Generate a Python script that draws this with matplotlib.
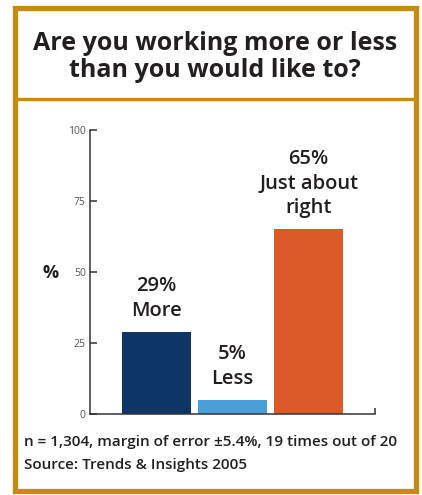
import matplotlib.pyplot as plt
from matplotlib.patches import Rectangle
from matplotlib.lines import Line2D

categories = ["More", "Less", "Just about\nright"]
values = [29, 5, 65]
colors = ["#0d3666", "#4a9fd8", "#dc5a28"]
yticks = [0, 25, 50, 75, 100]

title = "Are you working more or less\nthan you would like to?"
footnote = ["n = 1,304, margin of error \u00b15.4%, 19 times out of 20",
            "Source: Trends & Insights 2005"]

GOLD = "#c98a10"
TEXT = "#231f20"

plt.rcParams['font.family'] = ['Open Sans', 'DejaVu Sans']

fig = plt.figure(figsize=(4.22, 4.95), dpi=100)

# frame + divider under the title
fig.patches.append(Rectangle((14.5 / 422, 1 - 490.5 / 495), 401 / 422, 483 / 495,
                             transform=fig.transFigure, fill=False,
                             edgecolor=GOLD, linewidth=3.8))
fig.lines.append(Line2D([14.5 / 422, 415.5 / 422], [1 - 98.5 / 495, 1 - 98.5 / 495],
                        transform=fig.transFigure, color=GOLD, linewidth=2.4))

fig.text(0.51, 1 - 57 / 495, title, ha="center", va="center", fontsize=18,
         fontweight="bold", color=TEXT, linespacing=1.15)

ax = fig.add_axes([90 / 422, 81 / 495, 285 / 422, 284 / 495])
x = range(len(values))
ax.bar(x, values, width=0.91, color=colors)

for xi, v, c in zip(x, values, categories):
    ax.annotate(f"{v}%\n{c}", (xi, v), xytext=(0, 8), textcoords="offset points",
                ha="center", va="bottom", fontsize=14.5, fontweight="semibold",
                color=TEXT, linespacing=1.3)

ax.set_xlim(-0.875, 2.875)
ax.set_ylim(0, 100)
ax.set_yticks(yticks)
ax.set_xticks([2.875])
ax.set_xticklabels([])
ax.tick_params(axis="y", direction="in", length=5, width=1.1, color="#333333",
               labelsize=7.5, labelcolor="#555555", pad=3)
ax.tick_params(axis="x", direction="in", length=4, width=1.1, color="#333333")
for s in ["top", "right"]:
    ax.spines[s].set_visible(False)
for s in ["left", "bottom"]:
    ax.spines[s].set_linewidth(1.1)
    ax.spines[s].set_color("#333333")

fig.text(51 / 422, 1 - 273 / 495, "%", ha="center", va="center", fontsize=13,
         fontweight="bold", color=TEXT)

fig.text(24 / 422, 1 - 442 / 495, footnote[0], ha="left", va="center",
         fontsize=11, fontweight="semibold", color=TEXT)
fig.text(24 / 422, 1 - 465 / 495, footnote[1], ha="left", va="center",
         fontsize=11, fontweight="semibold", color=TEXT)

fig.savefig("out.png", dpi=100)
